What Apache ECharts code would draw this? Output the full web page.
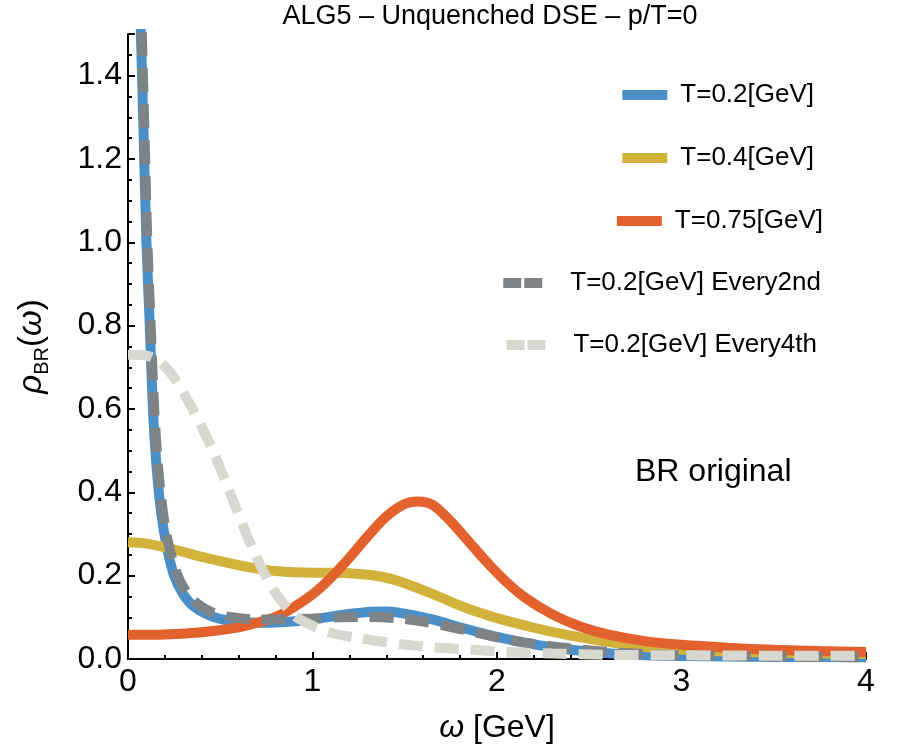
<!DOCTYPE html>
<html>
<head>
<meta charset="utf-8">
<script src="https://cdn.jsdelivr.net/npm/echarts@6/dist/echarts.min.js"></script>
<style>
  html, body { margin: 0; padding: 0; background: #fff; }
  #root { width: 900px; height: 750px; }
</style>
</head>
<body>
<div id="root"></div>
<script>
const FONT = '"Liberation Sans", Arial, Helvetica, sans-serif'

// legend names
const names = ['T=0.2[GeV]', 'T=0.4[GeV]', 'T=0.75[GeV]', 'T=0.2[GeV] Every2nd', 'T=0.2[GeV] Every4th']
const colors = ['#4a8fc7', '#d1b23b', '#e3612c', '#7e8386', '#d8d8d1']

// [omega, rho]
const t02 = [[0.05, 1.85], [0.07, 1.5], [0.085, 1.25], [0.10, 1.0], [0.118, 0.8], [0.135, 0.6], [0.155, 0.46],
  [0.18, 0.35], [0.21, 0.27], [0.25, 0.2], [0.3, 0.155], [0.36, 0.125], [0.45, 0.103], [0.55, 0.092],
  [0.7, 0.087], [0.85, 0.089], [1.0, 0.095], [1.15, 0.105], [1.3, 0.113], [1.4, 0.114], [1.5, 0.109],
  [1.65, 0.095], [1.8, 0.076], [2.0, 0.053], [2.2, 0.035], [2.4, 0.022], [2.6, 0.014], [2.8, 0.009],
  [3.0, 0.007], [3.5, 0.005], [4.0, 0.004]]
const t04 = [[0, 0.28], [0.1, 0.277], [0.2, 0.268], [0.3, 0.257], [0.4, 0.245], [0.5, 0.235], [0.6, 0.225],
  [0.7, 0.217], [0.8, 0.211], [0.9, 0.208], [1.0, 0.207], [1.1, 0.207], [1.2, 0.206], [1.3, 0.202],
  [1.4, 0.195], [1.5, 0.182], [1.6, 0.165], [1.7, 0.147], [1.8, 0.128], [1.9, 0.112], [2.0, 0.098],
  [2.2, 0.075], [2.4, 0.056], [2.6, 0.041], [2.8, 0.029], [3.0, 0.022], [3.25, 0.018], [3.5, 0.015],
  [3.75, 0.013], [4.0, 0.012]]
const t075 = [[0, 0.058], [0.2, 0.059], [0.4, 0.064], [0.6, 0.076], [0.7, 0.087], [0.8, 0.101], [0.9, 0.125],
  [1.0, 0.155], [1.1, 0.195], [1.2, 0.243], [1.3, 0.295], [1.4, 0.342], [1.5, 0.372], [1.57, 0.378],
  [1.65, 0.37], [1.75, 0.33], [1.85, 0.28], [1.95, 0.23], [2.05, 0.185], [2.15, 0.148], [2.3, 0.107],
  [2.45, 0.078], [2.6, 0.059], [2.8, 0.043], [3.0, 0.034], [3.25, 0.027], [3.5, 0.022], [3.75, 0.019],
  [4.0, 0.017]]
const every2nd = [[0.055, 1.85], [0.075, 1.5], [0.09, 1.25], [0.105, 1.0], [0.123, 0.8], [0.142, 0.6],
  [0.163, 0.46], [0.19, 0.35], [0.22, 0.275], [0.26, 0.21], [0.31, 0.165], [0.37, 0.135], [0.45, 0.113],
  [0.55, 0.101], [0.7, 0.095], [0.85, 0.095], [1.0, 0.097], [1.15, 0.1], [1.3, 0.101], [1.45, 0.098],
  [1.6, 0.09], [1.8, 0.072], [2.0, 0.052], [2.2, 0.036], [2.4, 0.025], [2.6, 0.017], [2.8, 0.012],
  [3.0, 0.009], [3.5, 0.006], [4.0, 0.004]]
const every4th = [[0, 0.73], [0.1, 0.728], [0.18, 0.71], [0.25, 0.675], [0.35, 0.6], [0.46, 0.5], [0.57, 0.38],
  [0.68, 0.26], [0.79, 0.165], [0.9, 0.105], [1.0, 0.08], [1.1, 0.063], [1.25, 0.05], [1.4, 0.04],
  [1.6, 0.03], [1.8, 0.024], [2.0, 0.018], [2.3, 0.013], [2.6, 0.01], [3.0, 0.009], [3.5, 0.008], [4.0, 0.008]]

const xTicks = [0, 1, 2, 3, 4]
const yMax = 1.5

const main = document.getElementById('root')
const myChart = echarts.init(main)

const allData = [t02, t04, t075, every2nd, every4th]
const dashed = [null, null, null, [24, 12], [24, 12]]

// one legend per entry so they line up on the right like the original
const legendPos = [
  { right: 86, top: 82, dash: false, pad: 8 },
  { right: 86, top: 145, dash: false, pad: 8 },
  { right: 77, top: 208, dash: false, pad: 8 },
  { right: 79, top: 270, dash: true, pad: 22 },
  { right: 83, top: 332, dash: true, pad: 22 }
]

const legends = names.map((n, i) => ({
  data: [n],
  right: legendPos[i].right,
  top: legendPos[i].top,
  padding: 0,
  selectedMode: false,
  icon: legendPos[i].dash ? 'path://M0,0h18v10h-18z M21,0h18v10h-18z' : 'rect',
  itemWidth: legendPos[i].dash ? 41 : 45,
  itemHeight: 10,
  itemStyle: { borderWidth: 0 },
  textStyle: { fontFamily: FONT, fontSize: 26, color: '#000', padding: [0, 0, 0, legendPos[i].pad] }
}))

const series = names.map((n, i) => ({
  name: n,
  type: 'line',
  data: allData[i],
  showSymbol: false,
  smooth: 0.3,
  clip: true,
  color: colors[i],
  itemStyle: { color: colors[i] },
  lineStyle: {
    color: colors[i],
    width: 10,
    type: dashed[i] || 'solid',
    cap: 'butt'
  },
  z: 2 + i
}))

const option = {
  animation: false,
  grid: { left: 128, right: 34, top: 34, bottom: 91 },
  legend: legends,
  graphic: [
    {
      type: 'text', x: 490, y: 17,
      style: { text: 'ALG5 – Unquenched DSE – p/T=0', font: '27px ' + FONT, fill: '#000', textAlign: 'center', textVerticalAlign: 'middle' }
    },
    {
      type: 'text', left: 635, top: 456,
      style: { text: 'BR original', font: '32px ' + FONT, fill: '#000' }
    }
  ],
  xAxis: {
    type: 'value',
    min: 0,
    max: 4,
    interval: 1,
    name: '{i|ω} [GeV]',
    nameLocation: 'middle',
    nameGap: 53,
    nameTextStyle: {
      fontFamily: FONT, fontSize: 32, color: '#000',
      rich: { i: { fontFamily: FONT, fontSize: 32, fontStyle: 'italic', color: '#000' } }
    },
    axisLine: { lineStyle: { color: '#000', width: 2 } },
    axisTick: { inside: true, length: 7, lineStyle: { color: '#000', width: 2 } },
    minorTick: { show: true, splitNumber: 5, length: 4, lineStyle: { color: '#000', width: 2 } },
    axisLabel: {
      fontFamily: FONT, fontSize: 32, color: '#000', margin: 7,
      formatter: v => (xTicks.includes(v) ? String(v) : '')
    },
    splitLine: { show: false }
  },
  yAxis: [
    {
      type: 'value',
      min: 0,
      max: yMax,
      interval: 0.05,
      name: '{i|ρ}{s|BR}{n|(}{i|ω}{n|)}',
      nameLocation: 'middle',
      nameGap: 76,
      nameTextStyle: {
        color: '#000',
        rich: {
          i: { fontFamily: FONT, fontSize: 33, fontStyle: 'italic', color: '#000', lineHeight: 40 },
          n: { fontFamily: FONT, fontSize: 33, color: '#000', lineHeight: 40 },
          s: { fontFamily: FONT, fontSize: 20, color: '#000', lineHeight: 20, verticalAlign: 'bottom' }
        }
      },
      axisLine: { show: true, lineStyle: { color: '#000', width: 2 } },
      axisTick: { inside: true, length: 4, lineStyle: { color: '#000', width: 2 } },
      axisLabel: {
        fontFamily: FONT, fontSize: 32, color: '#000', margin: 6,
        formatter: v => {
          const k = v / 0.2
          return Math.abs(k - Math.round(k)) < 1e-6 ? v.toFixed(1) : ''
        }
      },
      splitLine: { show: false }
    },
    {
      // longer ticks at the labelled values
      type: 'value',
      min: 0,
      max: yMax,
      interval: 0.2,
      position: 'left',
      axisLine: { show: false },
      axisTick: { inside: true, length: 7, lineStyle: { color: '#000', width: 2 } },
      axisLabel: { show: false },
      splitLine: { show: false }
    }
  ],
  series
}

myChart.setOption(option)
</script>
</body>
</html>
